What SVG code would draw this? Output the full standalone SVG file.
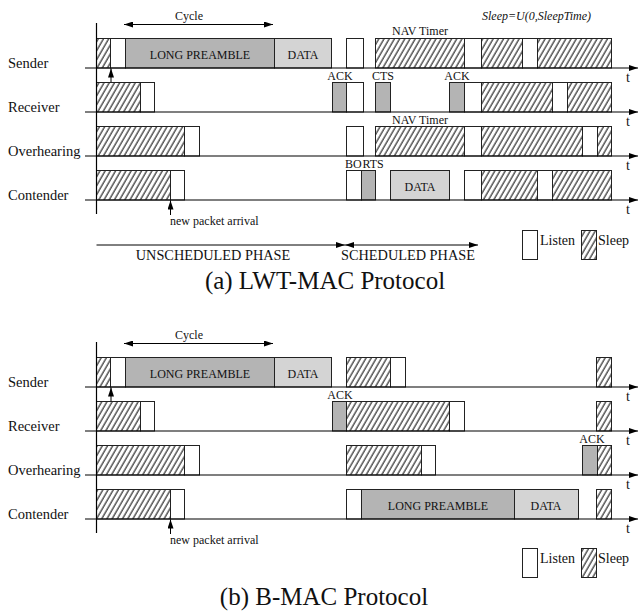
<svg xmlns="http://www.w3.org/2000/svg" width="639" height="613" viewBox="0 0 639 613">
<style>
text{font-family:"Liberation Serif","Times New Roman",serif;fill:#111}
.lbl{font-size:14.5px}
.sm{font-size:12px}
.in{font-size:12px;text-anchor:middle}
.ph{font-size:14.3px;text-anchor:middle}
.tt{font-size:14px}
.title{font-size:25px;text-anchor:middle}
.w{fill:#fff;stroke:#222;stroke-width:1}
.h{fill:url(#hatch);stroke:#222;stroke-width:1}
.g{fill:#b4b4b4;stroke:#222;stroke-width:1}
.lg{fill:#d4d4d4;stroke:#222;stroke-width:1}
.ax{stroke:#000;stroke-width:1.2;fill:none}
.ar{stroke:#000;stroke-width:1;fill:none}
</style>
<defs>
<pattern id="hatch" patternUnits="userSpaceOnUse" width="4.5" height="10" patternTransform="rotate(30)">
<rect width="4.5" height="10" fill="#fff"/>
<line x1="1" y1="0" x2="1" y2="10" stroke="#000" stroke-width="1"/>
</pattern>
<marker id="ah" markerUnits="userSpaceOnUse" markerWidth="10" markerHeight="6" refX="9" refY="3" orient="auto-start-reverse">
<path d="M0,0 L9,3 L0,6 z" fill="#000"/>
</marker>
</defs>
<rect width="639" height="613" fill="#fff"/>

<!-- (a) LWT-MAC -->
<g id="a-sender">
<text class="lbl" x="8" y="68">Sender</text>
<rect class="h" x="96.5" y="38.5" width="14" height="29.5"/>
<rect class="w" x="110.5" y="38.5" width="15" height="29.5"/>
<rect class="g" x="125.5" y="38.5" width="149" height="29.5"/>
<rect class="lg" x="274.5" y="38.5" width="57" height="29.5"/>
<rect class="w" x="346.5" y="38.5" width="17" height="29.5"/>
<rect class="h" x="375.5" y="38.5" width="89" height="29.5"/>
<rect class="w" x="464.5" y="38.5" width="17" height="29.5"/>
<rect class="h" x="481.5" y="38.5" width="41" height="29.5"/>
<rect class="w" x="522.5" y="38.5" width="15" height="29.5"/>
<rect class="h" x="537.5" y="38.5" width="74" height="29.5"/>
<text class="in" x="200" y="59">LONG PREAMBLE</text>
<text class="in" x="303" y="59">DATA</text>
<text class="in" x="420" y="35">NAV Timer</text>
</g>
<g id="a-receiver">
<text class="lbl" x="8" y="112">Receiver</text>
<rect class="h" x="96.5" y="82.5" width="44" height="29.5"/>
<rect class="w" x="140.5" y="82.5" width="14" height="29.5"/>
<rect class="g" x="332.5" y="82.5" width="14" height="29.5"/>
<rect class="w" x="346.5" y="82.5" width="17" height="29.5"/>
<rect class="g" x="375.5" y="82.5" width="15" height="29.5"/>
<rect class="g" x="449.5" y="82.5" width="15" height="29.5"/>
<rect class="w" x="464.5" y="82.5" width="17" height="29.5"/>
<rect class="h" x="481.5" y="82.5" width="71" height="29.5"/>
<rect class="w" x="552.5" y="82.5" width="15" height="29.5"/>
<rect class="h" x="567.5" y="82.5" width="44" height="29.5"/>
<text class="in" x="340" y="80">ACK</text>
<text class="in" x="383" y="80">CTS</text>
<text class="in" x="457" y="80">ACK</text>
</g>
<g id="a-overhearing">
<text class="lbl" x="8" y="156">Overhearing</text>
<rect class="h" x="96.5" y="126.5" width="88" height="29.5"/>
<rect class="w" x="184.5" y="126.5" width="15" height="29.5"/>
<rect class="w" x="346.5" y="126.5" width="17" height="29.5"/>
<rect class="h" x="375.5" y="126.5" width="89" height="29.5"/>
<rect class="w" x="464.5" y="126.5" width="17" height="29.5"/>
<rect class="h" x="481.5" y="126.5" width="101" height="29.5"/>
<rect class="w" x="582.5" y="126.5" width="15" height="29.5"/>
<rect class="h" x="597.5" y="126.5" width="14" height="29.5"/>
<text class="in" x="420" y="124">NAV Timer</text>
</g>
<g id="a-contender">
<text class="lbl" x="8" y="200">Contender</text>
<rect class="h" x="96.5" y="170.5" width="74" height="29.5"/>
<rect class="w" x="170.5" y="170.5" width="14" height="29.5"/>
<rect class="w" x="346.5" y="170.5" width="15" height="29.5"/>
<rect class="g" x="361.5" y="170.5" width="14" height="29.5"/>
<rect class="lg" x="390.5" y="170.5" width="59" height="29.5"/>
<rect class="w" x="464.5" y="170.5" width="17" height="29.5"/>
<rect class="h" x="481.5" y="170.5" width="56" height="29.5"/>
<rect class="w" x="537.5" y="170.5" width="15" height="29.5"/>
<rect class="h" x="552.5" y="170.5" width="59" height="29.5"/>
<text class="sm" x="345" y="168" font-size="11.3">BO</text>
<text class="sm" x="362.5" y="168" font-size="11.3">RTS</text>
<text class="in" x="420" y="191">DATA</text>
</g>
<g id="a-notes">
<text class="in" x="189" y="20">Cycle</text>
<text class="sm" x="482" y="20" font-style="italic">Sleep=U(0,SleepTime)</text>
<text class="sm" x="170" y="225" font-size="11.5">new packet arrival</text>
<text class="ph" x="213" y="260">UNSCHEDULED PHASE</text>
<text class="ph" x="408" y="260">SCHEDULED PHASE</text>
<text class="tt" x="626" y="82">t</text>
<text class="tt" x="626" y="126">t</text>
<text class="tt" x="626" y="170">t</text>
<text class="tt" x="626" y="214">t</text>
</g>
<g id="a-legend">
<rect class="w" x="522.5" y="230.5" width="15" height="29"/>
<text class="tt" x="540" y="245">Listen</text>
<rect class="h" x="581.5" y="230.5" width="15" height="29"/>
<text class="tt" x="598" y="245">Sleep</text>
</g>
<text id="a-title" class="title" x="325" y="289">(a) LWT-MAC Protocol</text>

<!-- (b) B-MAC -->
<g id="b-sender">
<text class="lbl" x="8" y="387">Sender</text>
<rect class="h" x="96.5" y="357.5" width="14" height="29.5"/>
<rect class="w" x="110.5" y="357.5" width="15" height="29.5"/>
<rect class="g" x="125.5" y="357.5" width="149" height="29.5"/>
<rect class="lg" x="274.5" y="357.5" width="57" height="29.5"/>
<rect class="h" x="346.5" y="357.5" width="44" height="29.5"/>
<rect class="w" x="390.5" y="357.5" width="15" height="29.5"/>
<rect class="h" x="596.5" y="357.5" width="15" height="29.5"/>
<text class="in" x="200" y="378">LONG PREAMBLE</text>
<text class="in" x="303" y="378">DATA</text>
</g>
<g id="b-receiver">
<text class="lbl" x="8" y="431">Receiver</text>
<rect class="h" x="96.5" y="401.5" width="44" height="29.5"/>
<rect class="w" x="140.5" y="401.5" width="14" height="29.5"/>
<rect class="g" x="332.5" y="401.5" width="14" height="29.5"/>
<rect class="h" x="346.5" y="401.5" width="103" height="29.5"/>
<rect class="w" x="449.5" y="401.5" width="15" height="29.5"/>
<rect class="h" x="596.5" y="401.5" width="15" height="29.5"/>
<text class="in" x="340" y="399">ACK</text>
</g>
<g id="b-overhearing">
<text class="lbl" x="8" y="475">Overhearing</text>
<rect class="h" x="96.5" y="445.5" width="88" height="29.5"/>
<rect class="w" x="184.5" y="445.5" width="15" height="29.5"/>
<rect class="h" x="346.5" y="445.5" width="75" height="29.5"/>
<rect class="w" x="421.5" y="445.5" width="14" height="29.5"/>
<rect class="g" x="582.5" y="445.5" width="15" height="29.5"/>
<rect class="h" x="597.5" y="445.5" width="14" height="29.5"/>
<text class="in" x="592" y="443">ACK</text>
</g>
<g id="b-contender">
<text class="lbl" x="8" y="519">Contender</text>
<rect class="h" x="96.5" y="489.5" width="74" height="29.5"/>
<rect class="w" x="170.5" y="489.5" width="14" height="29.5"/>
<rect class="w" x="346.5" y="489.5" width="15" height="29.5"/>
<rect class="g" x="361.5" y="489.5" width="153" height="29.5"/>
<rect class="lg" x="514.5" y="489.5" width="64" height="29.5"/>
<rect class="h" x="596.5" y="489.5" width="15" height="29.5"/>
<text class="in" x="438" y="510">LONG PREAMBLE</text>
<text class="in" x="546" y="510">DATA</text>
</g>
<g id="b-notes">
<text class="in" x="189" y="339">Cycle</text>
<text class="sm" x="170" y="544" font-size="11.5">new packet arrival</text>
<text class="tt" x="626" y="401">t</text>
<text class="tt" x="626" y="445">t</text>
<text class="tt" x="626" y="489">t</text>
<text class="tt" x="626" y="533">t</text>
</g>
<g id="b-legend">
<rect class="w" x="522.5" y="548.5" width="15" height="29"/>
<text class="tt" x="540" y="563">Listen</text>
<rect class="h" x="581.5" y="548.5" width="15" height="29"/>
<text class="tt" x="598" y="563">Sleep</text>
</g>
<text id="b-title" class="title" x="324" y="605">(b) B-MAC Protocol</text>

<g id="connectors">
<!-- (a) axes -->
<line class="ax" x1="96.5" y1="23" x2="96.5" y2="214"/>
<line class="ax" x1="85" y1="68" x2="638" y2="68" marker-end="url(#ah)"/>
<line class="ax" x1="85" y1="112" x2="638" y2="112" marker-end="url(#ah)"/>
<line class="ax" x1="85" y1="156" x2="638" y2="156" marker-end="url(#ah)"/>
<line class="ax" x1="85" y1="200" x2="638" y2="200" marker-end="url(#ah)"/>
<line class="ar" x1="124" y1="24.5" x2="273" y2="24.5" marker-start="url(#ah)" marker-end="url(#ah)"/>
<line class="ar" x1="111" y1="82" x2="111" y2="68.5" marker-end="url(#ah)"/>
<line class="ar" x1="170.5" y1="215" x2="170.5" y2="200.5" marker-end="url(#ah)"/>
<line class="ar" x1="96.5" y1="245" x2="345" y2="245" marker-end="url(#ah)"/>
<line class="ar" x1="345" y1="245" x2="478" y2="245" marker-start="url(#ah)" marker-end="url(#ah)"/>
<!-- (b) axes -->
<line class="ax" x1="96.5" y1="342" x2="96.5" y2="533"/>
<line class="ax" x1="85" y1="387" x2="638" y2="387" marker-end="url(#ah)"/>
<line class="ax" x1="85" y1="431" x2="638" y2="431" marker-end="url(#ah)"/>
<line class="ax" x1="85" y1="475" x2="638" y2="475" marker-end="url(#ah)"/>
<line class="ax" x1="85" y1="519" x2="638" y2="519" marker-end="url(#ah)"/>
<line class="ar" x1="124" y1="343.5" x2="273" y2="343.5" marker-start="url(#ah)" marker-end="url(#ah)"/>
<line class="ar" x1="111" y1="401" x2="111" y2="387.5" marker-end="url(#ah)"/>
<line class="ar" x1="170.5" y1="534" x2="170.5" y2="519.5" marker-end="url(#ah)"/>
</g>
</svg>
